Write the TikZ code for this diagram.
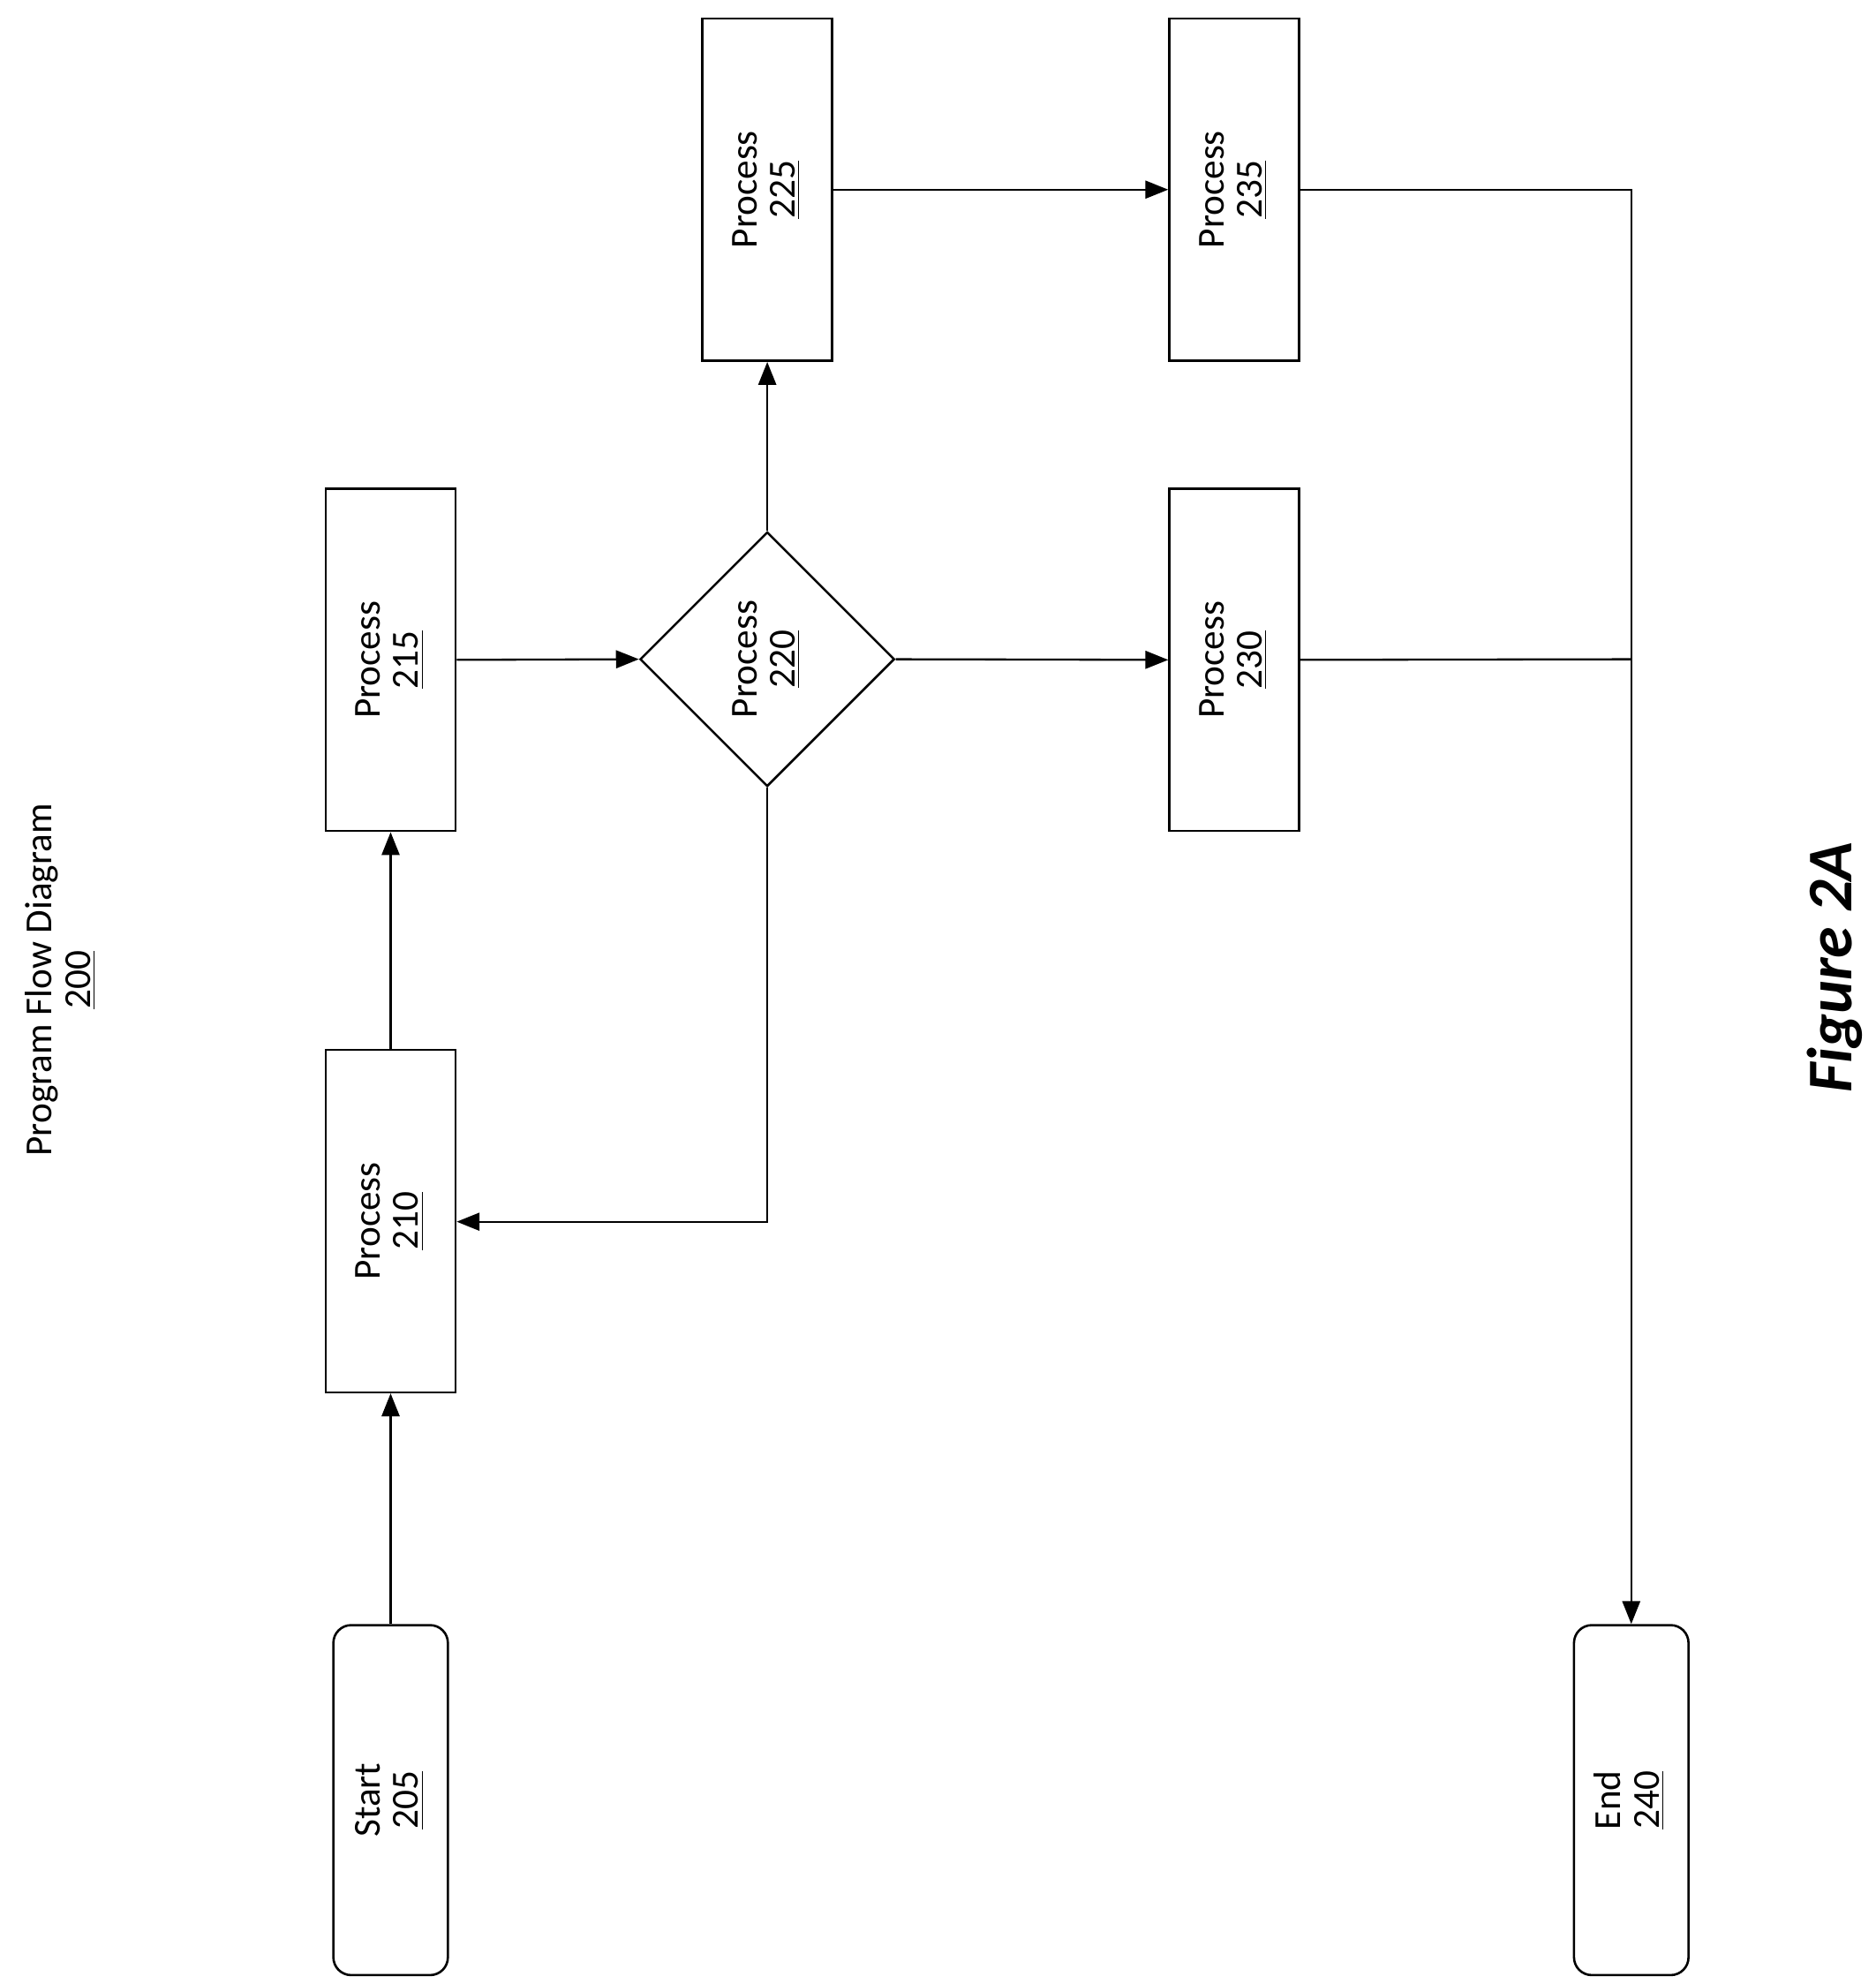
\documentclass[tikz,border=0pt]{standalone}
\usepackage{fontspec}
\setmainfont{Carlito}
\usetikzlibrary{shapes.geometric,arrows.meta}
\begin{document}
\begin{tikzpicture}[x=0.5pt,y=-0.5pt,
  box/.style={draw,line width=0.9pt,inner sep=0pt,minimum width=51pt,minimum height=134.5pt,font=\fontsize{15}{17}\selectfont},
  term/.style={box,rounded corners=7pt,minimum width=45pt,minimum height=137.5pt},
  dia/.style={draw,line width=0.9pt,diamond,inner sep=0pt,minimum width=100pt,minimum height=100pt,font=\fontsize{15}{17}\selectfont},
  ar/.style={line width=0.8pt,-{Triangle[length=9pt,width=7pt]}},
  ln/.style={line width=0.8pt}]
\useasboundingbox (0,0) rectangle (1474,1559);
\newcommand{\rt}[2]{\rotatebox{90}{\begin{tabular}{@{}c@{}}#1\\[-2pt]\underline{#2}\end{tabular}}}
\node[box=none,draw=none,font=\fontsize{15}{17}\selectfont] (title) at (49,770) {\rt{Program Flow Diagram}{200}};
\node[term] (s205) at (307,1414.5) {\rt{Start}{205}};
\node[box] (p210) at (307,959.5) {\rt{Process}{210}};
\node[box] (p215) at (307,518.5) {\rt{Process}{215}};
\node[dia] (d220) at (603,518) {\rt{Process}{220}};
\node[box] (p225) at (603,149) {\rt{Process}{225}};
\node[box] (p235) at (970,149) {\rt{Process}{235}};
\node[box] (p230) at (970,518.5) {\rt{Process}{230}};
\node[term] (e240) at (1282,1414.5) {\rt{End}{240}};
\node[font=\fontsize{25}{28}\selectfont\bfseries\itshape,rotate=90] (fig) at (1442,760) {Figure 2A};
\coordinate (c1) at (603,960);
\coordinate (c2) at (1282,149);
\coordinate (c3) at (1282,518);
\draw[ar] (s205.north) -- (p210.south);
\draw[ar] (p210.north) -- (p215.south);
\draw[ar] (p215.east) -- (d220.west);
\draw[ar] (d220.north) -- (p225.south);
\draw[ar] (d220.east) -- (p230.west);
\draw[ar] (d220.south) -- (c1) -- (c1 -| p210.east);
\draw[ar] (p225.east) -- (p235.west);
\draw[ar] (p235.east) -- (c2) -- (e240.north);
\draw[ln] (p230.east) -- (c3);
\end{tikzpicture}
\end{document}
